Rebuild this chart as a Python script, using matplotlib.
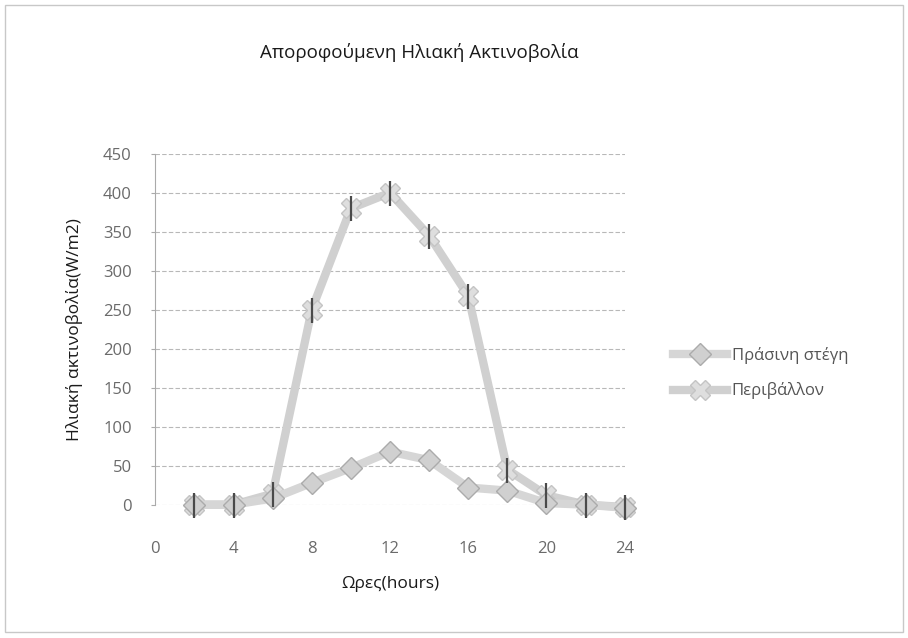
import matplotlib.pyplot as plt
import numpy as np
from matplotlib.patches import Rectangle

plt.rcParams['font.family'] = ['Open Sans', 'DejaVu Sans']

# data
hours = [2, 4, 6, 8, 10, 12, 14, 16, 18, 20, 22, 24]
green_roof = [0, 0, 8, 28, 47, 68, 57, 22, 18, 2, 0, -4]
ambient = [0, 0, 14, 250, 380, 400, 345, 268, 45, 12, 0, -3]
labels = ['Πράσινη στέγη', 'Περιβάλλον']
xticks = [0, 4, 8, 12, 16, 20, 24]
yticks = np.arange(0, 451, 50)

fig = plt.figure(figsize=(9.08, 6.38), dpi=100)
# outer chart frame
fig.patches.append(Rectangle((0.006, 0.01), 0.988, 0.982, transform=fig.transFigure,
                             fill=False, edgecolor='#c8c8c8', linewidth=1))

ax = fig.add_axes([0.171, 0.209, 0.517, 0.55])

l1, = ax.plot(hours, green_roof, color='#d6d6d6', linewidth=6, marker='D', markersize=11,
              markerfacecolor='#d0d0d0', markeredgecolor='#ababab', markeredgewidth=1,
              zorder=4, clip_on=False)
l2, = ax.plot(hours, ambient, color='#d0d0d0', linewidth=6, marker='X', markersize=15,
              markerfacecolor='#dedede', markeredgecolor='#c4c4c4', zorder=3, clip_on=False)
ax.plot(hours, ambient, linestyle='none', marker='|', markersize=18, markeredgewidth=1.6,
        color='#4a4a4a', zorder=5, clip_on=False)

ax.set_xlim(0, 24)
ax.set_ylim(0, 450)
ax.set_xticks(xticks)
ax.set_yticks(yticks)
ax.yaxis.grid(True, color='#b8b8b8', linewidth=0.8, linestyle=(0, (4, 2)))
ax.tick_params(axis='x', length=0, pad=26, labelsize=12, labelcolor='#6a6a6a')
ax.tick_params(axis='y', length=3, pad=14, labelsize=12, labelcolor='#6a6a6a', color='#aaaaaa')
for s in ['top', 'right', 'bottom']:
    ax.spines[s].set_visible(False)
ax.spines['left'].set_color('#aaaaaa')

fig.text(0.462, 0.918, 'Αποροφούμενη Ηλιακή Ακτινοβολία', fontsize=13.5, color='#1a1a1a',
         ha='center', va='center', fontweight='medium')
ax.set_xlabel('Ωρες(hours)', fontsize=12.5, color='#1a1a1a', labelpad=14)
ax.set_ylabel('Ηλιακή ακτινοβολία(W/m2)', fontsize=12.5, color='#1a1a1a', labelpad=14,
              fontweight='medium')

leg = fig.legend([l1, l2], labels, loc='center left', bbox_to_anchor=(0.725, 0.415),
                 frameon=False, fontsize=12, labelspacing=1.1, handlelength=3.2,
                 handletextpad=0.3, labelcolor='#555555')

fig.savefig('out.png', dpi=100)
